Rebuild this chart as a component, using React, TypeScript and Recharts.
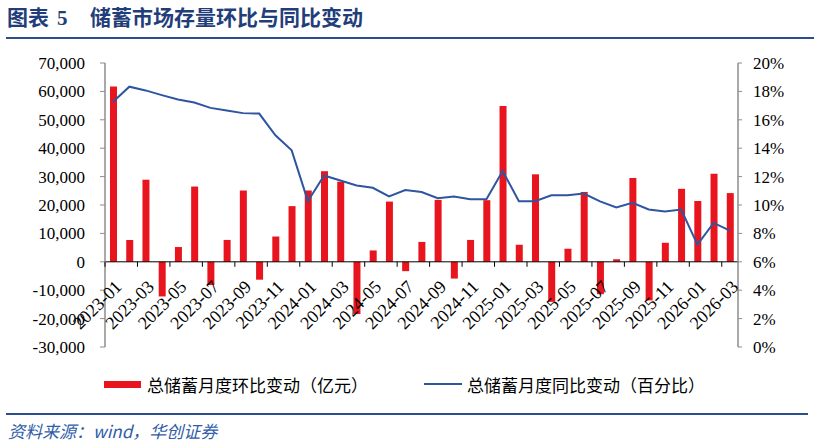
import React from "react";
import {
  ComposedChart,
  Bar,
  Line,
  XAxis,
  YAxis,
  ReferenceLine,
} from "recharts";

const months: string[] = [
  "2023-01", "2023-02", "2023-03", "2023-04", "2023-05", "2023-06", "2023-07", "2023-08", "2023-09", "2023-10",
  "2023-11", "2023-12", "2024-01", "2024-02", "2024-03", "2024-04", "2024-05", "2024-06", "2024-07", "2024-08",
  "2024-09", "2024-10", "2024-11", "2024-12", "2025-01", "2025-02", "2025-03", "2025-04", "2025-05", "2025-06",
  "2025-07", "2025-08", "2025-09", "2025-10", "2025-11", "2025-12", "2026-01", "2026-02", "2026-03",
];

// 总储蓄月度环比变动（亿元）
const momChange: number[] = [
  61700, 7700, 28900, -12200, 5200, 26500, -8200, 7700, 25100, -6300,
  8900, 19600, 25100, 31900, 28200, -18400, 4000, 21200, -3300, 7000,
  21800, -5900, 7700, 21700, 54900, 6000, 30800, -14100, 4600, 24600,
  -11400, 900, 29500, -13600, 6700, 25700, 21400, 31000, 24200,
];

// 总储蓄月度同比变动（%）
const yoyChange: number[] = [
  17.27, 18.33, 18.07, 17.74, 17.43, 17.22, 16.84, 16.65, 16.47, 16.44,
  14.91, 13.85, 10.27, 12.08, 11.73, 11.38, 11.21, 10.6, 11.05, 10.91,
  10.48, 10.6, 10.41, 10.41, 12.39, 10.27, 10.27, 10.69, 10.69, 10.81,
  10.25, 9.82, 10.15, 9.68, 9.54, 9.68, 7.21, 8.74, 8.2,
];

const leftTicks: number[] = [-30000, -20000, -10000, 0, 10000, 20000, 30000, 40000, 50000, 60000, 70000];
const rightTicks: number[] = [0, 2, 4, 6, 8, 10, 12, 14, 16, 18, 20];

const titleLabel = "图表";
const titleNumber = "5";
const titleText = "储蓄市场存量环比与同比变动";
const seriesBarName = "总储蓄月度环比变动（亿元）";
const seriesLineName = "总储蓄月度同比变动（百分比）";
const sourceText = "资料来源：wind，华创证券";

const data = months.map((m, i) => ({ month: m, mom: momChange[i], yoy: yoyChange[i] }));

const W = 814;
const H = 446;
const PLOT_TOP = 63;
const PLOT_BOTTOM = 347;
const PLOT_LEFT = 105;
const PLOT_RIGHT = 738;
const X_AXIS_H = 30;
const LEFT_MIN = leftTicks[0];
const LEFT_MAX = leftTicks[leftTicks.length - 1];
const ZERO_Y = PLOT_TOP + ((PLOT_BOTTOM - PLOT_TOP) * (LEFT_MAX - 0)) / (LEFT_MAX - LEFT_MIN);
const HALF_BAND = (PLOT_RIGHT - PLOT_LEFT) / months.length / 2;

const SERIF = "'Liberation Serif', 'DejaVu Serif', serif";
const CJK = "'Noto Sans CJK SC', 'Noto Sans', sans-serif";
const RED = "#E8151E";
const BLUE = "#2E55A0";

const CategoryTick = (props: any) => {
  const { x, payload } = props;
  const ax = x + 0.5;
  const ay = ZERO_Y + 17;
  return (
    <g>
      <line x1={x - HALF_BAND} x2={x - HALF_BAND} y1={ZERO_Y} y2={ZERO_Y + 5} stroke="#000" strokeWidth={1} />
      <text
        x={ax}
        y={ay}
        dy="0.71em"
        textAnchor="end"
        transform={`rotate(-45, ${ax}, ${ay})`}
        fontSize={18}
        fontFamily={SERIF}
        fill="#000"
      >
        {payload.value}
      </text>
    </g>
  );
};

export default function App() {
  return (
    <div style={{ position: "absolute", left: 0, top: 0, width: W, height: H, background: "#fff", overflow: "hidden" }}>
      {/* Title */}
      <div
        style={{
          position: "absolute",
          left: 7,
          top: 3,
          fontSize: 21,
          fontWeight: 700,
          color: "#1F3E7A",
          fontFamily: CJK,
          lineHeight: "26px",
          whiteSpace: "nowrap",
        }}
      >
        {titleLabel}
        <span style={{ fontFamily: SERIF, marginLeft: 8 }}>{titleNumber}</span>
      </div>
      <div
        style={{
          position: "absolute",
          left: 90,
          top: 3,
          fontSize: 21,
          fontWeight: 700,
          color: "#1F3E7A",
          fontFamily: CJK,
          lineHeight: "26px",
          whiteSpace: "nowrap",
        }}
      >
        {titleText}
      </div>
      <div style={{ position: "absolute", left: 6, top: 37, width: W - 6, height: 2, background: "#2B4F8E" }} />

      <div style={{ position: "absolute", left: 0, top: 0 }}>
        <ComposedChart
          width={W}
          height={H}
          data={data}
          margin={{ top: PLOT_TOP, right: W - PLOT_RIGHT - 60, left: 0, bottom: H - PLOT_BOTTOM - X_AXIS_H }}
          barCategoryGap="0%"
        >
          <XAxis
            dataKey="month"
            interval={1}
            height={X_AXIS_H}
            axisLine={false}
            tickLine={false}
            tickSize={0}
            tickMargin={0}
            tick={CategoryTick}
          />
          <YAxis
            yAxisId="left"
            width={PLOT_LEFT}
            domain={[LEFT_MIN, LEFT_MAX]}
            ticks={leftTicks}
            interval={0}
            allowDataOverflow
            tickFormatter={(v: number) => v.toLocaleString("en-US")}
            axisLine={{ stroke: "#8C8C8C", strokeWidth: 1.5 }}
            tickLine={{ stroke: "#8C8C8C" }}
            tickSize={5}
            tickMargin={15}
            tick={{ fontSize: 17, fontFamily: SERIF, fill: "#000" }}
          />
          <YAxis
            yAxisId="right"
            orientation="right"
            width={60}
            domain={[0, 20]}
            ticks={rightTicks}
            interval={0}
            allowDataOverflow
            tickFormatter={(v: number) => `${v}%`}
            axisLine={{ stroke: "#8C8C8C", strokeWidth: 1.5 }}
            tickLine={{ stroke: "#8C8C8C" }}
            tickSize={4}
            tickMargin={11}
            tick={{ fontSize: 17, fontFamily: SERIF, fill: "#000" }}
          />
          <Bar yAxisId="left" dataKey="mom" fill={RED} barSize={7} isAnimationActive={false} />
          <ReferenceLine yAxisId="left" y={0} stroke="#000" strokeWidth={1} ifOverflow="extendDomain" />
          <Line
            yAxisId="right"
            type="linear"
            dataKey="yoy"
            stroke={BLUE}
            strokeWidth={2}
            dot={false}
            activeDot={false}
            isAnimationActive={false}
          />
        </ComposedChart>
      </div>

      {/* Legend */}
      <div style={{ position: "absolute", left: 104, top: 381, width: 37, height: 7, background: RED }} />
      <div
        style={{
          position: "absolute",
          left: 147,
          top: 374,
          fontSize: 17,
          lineHeight: "22px",
          fontFamily: CJK,
          color: "#000",
          whiteSpace: "nowrap",
        }}
      >
        {seriesBarName}
      </div>
      <div style={{ position: "absolute", left: 424, top: 383, width: 38, height: 2, background: BLUE }} />
      <div
        style={{
          position: "absolute",
          left: 467,
          top: 374,
          fontSize: 17,
          lineHeight: "22px",
          fontFamily: CJK,
          color: "#000",
          whiteSpace: "nowrap",
        }}
      >
        {seriesLineName}
      </div>

      {/* Footer */}
      <div style={{ position: "absolute", left: 6, top: 413, width: 802, height: 2, background: "#2B4F8E" }} />
      <div
        style={{
          position: "absolute",
          left: 8,
          top: 420,
          fontSize: 17,
          lineHeight: "22px",
          fontFamily: CJK,
          fontStyle: "italic",
          color: "#2F5DA8",
          whiteSpace: "nowrap",
        }}
      >
        {sourceText}
      </div>
    </div>
  );
}
